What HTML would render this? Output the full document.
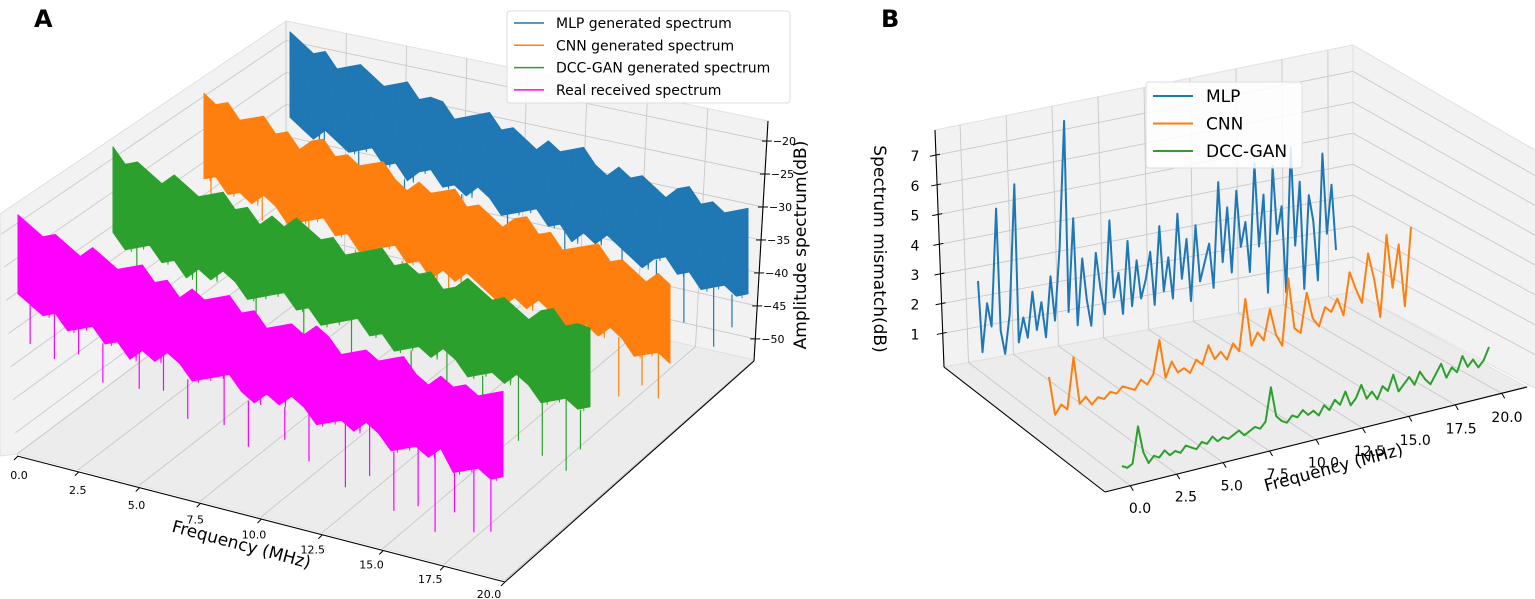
<!DOCTYPE html>
<html><head><meta charset="utf-8"><style>
html,body{margin:0;padding:0;background:#fff;}
svg{display:block;font-family:"DejaVu Sans","Liberation Sans",sans-serif;}
</style></head><body>
<svg id="chart" width="1535" height="599" viewBox="0 0 1535 599" xmlns="http://www.w3.org/2000/svg">
<g id="gA"></g>
<g id="gB"></g>
</svg>
<script>
// ---------- Panel A data (dB) ----------
const freqTicksA = ["0.0","2.5","5.0","7.5","10.0","12.5","15.0","17.5","20.0"];
const ampTicksA = [-20,-25,-30,-35,-40,-45,-50];
const seriesNamesA = ["MLP generated spectrum","CNN generated spectrum","DCC-GAN generated spectrum","Real received spectrum"];
const mlpPeak = [-18,-19,-20,-19,-21,-20,-19,-20,-21,-20,-19,-21,-20,-20,-22,-21,-20,-19,-21,-20,-21,-22,-20,-21,-20,-19,-21,-22,-20,-21,-20,-21,-22,-20,-19,-21,-20,-21,-20,-19];
const mlpFloor = [-31,-32,-33,-31,-32,-33,-32,-31,-33,-32,-34,-32,-31,-33,-32,-33,-31,-32,-34,-33,-32,-31,-33,-32,-34,-32,-33,-31,-32,-33,-34,-32,-31,-33,-32,-34,-33,-32,-33,-32];
const mlpDipF = [1.5,3,5,7.5,9.5,12,14.5,16,17.2,18.5,19.3];
const mlpDipDb = [-36,-35,-36,-37,-38,-36,-39,-37,-40,-42,-38];
const cnnPeak = [-19,-20,-19,-21,-20,-19,-21,-20,-22,-20,-19,-21,-20,-21,-20,-19,-21,-22,-20,-21,-20,-19,-21,-20,-21,-22,-20,-19,-21,-20,-22,-21,-20,-19,-21,-20,-21,-22,-20,-21];
const cnnFloor = [-32,-31,-33,-32,-33,-31,-32,-34,-33,-32,-31,-33,-32,-34,-33,-32,-31,-33,-32,-34,-32,-33,-31,-32,-33,-34,-32,-33,-31,-32,-34,-33,-32,-33,-31,-32,-34,-33,-32,-33];
const cnnDipF = [0.3,2.5,4.5,6.5,8.5,10.5,13,15,16.5,17.8,18.8,19.5];
const cnnDipDb = [-36,-35,-37,-36,-38,-36,-37,-39,-40,-41,-38,-39];
const ganPeak = [-18,-20,-19,-20,-21,-19,-20,-21,-20,-19,-21,-20,-22,-20,-21,-19,-20,-21,-20,-22,-21,-20,-19,-21,-20,-21,-20,-22,-21,-19,-20,-21,-20,-21,-22,-20,-19,-21,-20,-20];
const ganFloor = [-31,-33,-32,-31,-33,-32,-34,-32,-33,-31,-32,-34,-33,-32,-31,-33,-32,-34,-33,-32,-31,-33,-32,-34,-33,-32,-33,-31,-32,-34,-33,-32,-33,-31,-32,-34,-33,-32,-33,-32];
const ganDipF = [1,3.5,6,8,10,12.5,14,15.5,17,18,19,19.6];
const ganDipDb = [-36,-37,-36,-38,-37,-39,-38,-40,-41,-42,-43,-39];
const realPeak = [-18,-19,-20,-19,-20,-21,-19,-20,-21,-20,-19,-21,-20,-22,-20,-21,-20,-19,-21,-20,-22,-21,-20,-21,-19,-20,-22,-21,-20,-21,-20,-19,-21,-22,-20,-21,-20,-21,-20,-19];
const realFloor = [-30,-31,-32,-31,-33,-32,-31,-33,-32,-34,-32,-33,-31,-32,-34,-33,-32,-31,-33,-34,-32,-33,-31,-32,-34,-33,-32,-33,-31,-32,-34,-33,-32,-33,-31,-34,-33,-32,-33,-32];
const realDipF = [0.5,1.5,2.5,3.5,5,6,7,8.5,9.5,11,12,13.5,14.5,15.5,16.5,17.2,18,18.8,19.5];
const realDipDb = [-37,-38,-36,-39,-38,-37,-40,-39,-41,-38,-40,-42,-39,-43,-41,-44,-40,-42,-41];

// ---------- Panel B data (dB) ----------
const freqTicksB = ["0.0","2.5","5.0","7.5","10.0","12.5","15.0","17.5","20.0"];
const zTicksB = [1,2,3,4,5,6,7];
const seriesNamesB = ["MLP","CNN","DCC-GAN"];
const mlpMismatch = [2.8,0.4,2.0,1.2,5.1,1.0,0.2,1.5,5.8,0.5,1.3,0.6,2.1,0.8,1.7,0.5,2.5,1.0,3.4,7.6,1.2,4.3,0.7,2.9,1.5,0.6,3.0,1.8,0.9,4.0,1.4,2.2,0.8,3.2,1.0,2.5,1.2,1.8,2.7,0.9,3.5,1.3,2.4,1.0,3.8,1.6,2.9,0.8,3.3,1.4,2.0,2.6,1.1,4.6,1.9,3.7,1.5,4.2,2.3,3.1,1.4,5.0,2.2,3.9,0.6,4.8,2.5,3.4,0.5,5.3,2.0,4.1,0.5,3.6,2.7,0.7,4.9,2.2,3.8,1.6];
const cnnMismatch = [1.5,0.2,0.5,0.3,2.0,0.4,0.6,0.3,0.5,0.4,0.6,0.5,0.7,0.6,0.5,0.8,0.6,0.9,2.0,0.7,1.2,0.8,0.9,0.7,1.1,0.9,1.5,1.0,1.2,0.9,1.4,1.1,2.8,1.2,1.6,1.3,2.3,1.4,1.0,3.2,1.5,1.3,2.6,1.7,1.4,2.0,1.8,2.2,1.6,3.0,2.4,1.9,3.5,2.6,1.3,4.0,2.2,3.6,1.5,4.1];
const ganMismatch = [0.3,0.2,0.3,1.5,0.6,0.2,0.4,0.3,0.5,0.3,0.4,0.3,0.5,0.4,0.3,0.5,0.4,0.6,0.4,0.5,0.4,0.5,0.6,0.4,0.5,0.6,0.5,0.7,1.8,0.8,0.6,0.5,0.7,0.6,0.8,0.6,0.7,0.5,0.8,0.6,0.9,0.7,1.1,0.6,0.8,1.2,0.7,0.9,0.6,1.0,0.8,1.3,0.7,0.9,1.1,0.8,1.2,0.9,0.7,1.0,1.3,0.8,1.1,0.9,1.4,1.0,1.2,0.9,1.1,1.5];

const NS = "http://www.w3.org/2000/svg";
const gA = document.getElementById('gA');
const gB = document.getElementById('gB');
function mk(parent, tag, attrs){ const e=document.createElementNS(NS,tag); for(const k in attrs) e.setAttribute(k,attrs[k]); parent.appendChild(e); return e; }
function pts(a){ return a.map(p=>p[0].toFixed(1)+','+p[1].toFixed(1)).join(' '); }
function lerp(a,b,t){ return [a[0]+(b[0]-a[0])*t, a[1]+(b[1]-a[1])*t]; }
const GRID = "#c8c8c8";
let e;

// ================= PANEL A =================
const A = { bt:[286,21], bb:[286,253], rt:[768,121], rb:[754,360], lf:[0,214], lfb:[17,454], ff:[505,580] };
e = mk(gA,'polygon',{points:pts([A.bt,A.lf,[0,456],A.lfb,A.bb]),fill:"#f2f2f2",stroke:"#e0e0e0"});
 
e = mk(gA,'polygon',{points:pts([A.bt,A.rt,A.rb,A.bb]),fill:"#f2f2f2",stroke:"#e0e0e0"});
 
e = mk(gA,'polygon',{points:pts([A.lfb,A.bb,A.rb,A.ff]),fill:"#ececec",stroke:"#e0e0e0"});
 
function zfracA(z){ return (-16.96 - z)/36.24; }
ampTicksA.forEach(z=>{
  const u=zfracA(z);
  const L=lerp(A.bt,A.bb,u), R=lerp(A.rt,A.rb,u), F=lerp(A.lf,A.lfb,u);
  e = mk(gA,'line',{x1:L[0],y1:L[1],x2:R[0],y2:R[1],stroke:GRID,'stroke-width':0.9});
   
  e = mk(gA,'line',{x1:L[0],y1:L[1],x2:F[0],y2:F[1],stroke:GRID,'stroke-width':0.9});
   
  e = mk(gA,'line',{x1:R[0]-5,y1:R[1],x2:R[0]+5,y2:R[1],stroke:"#000",'stroke-width':1});
   
  e = mk(gA,'text',{x:R[0]+6,y:R[1]+4,'font-size':11,fill:"#000"});
  e.textContent = '\u2212'+Math.abs(z);
   
});
freqTicksA.forEach((lab,i)=>{
  const t=i/(freqTicksA.length-1);
  const F=lerp(A.lfb,A.ff,t), B=lerp(A.bb,A.rb,t), T=lerp(A.bt,A.rt,t);
  e = mk(gA,'polyline',{points:pts([F,B,T]),fill:"none",stroke:GRID,'stroke-width':0.9});
   
  const fa=[18+487*t, 456+126*t];
  e = mk(gA,'line',{x1:fa[0],y1:fa[1],x2:fa[0]-4,y2:fa[1]+4,stroke:"#000",'stroke-width':1});
   
  e = mk(gA,'text',{x:19+470*t,y:479+119*t,'font-size':11,'text-anchor':'middle',fill:"#000"});
  e.textContent = lab;
   
});
e = mk(gA,'line',{x1:17,y1:456,x2:505,y2:582,stroke:"#000",'stroke-width':1.1});
 
e = mk(gA,'line',{x1:505,y1:582,x2:754,y2:361,stroke:"#000",'stroke-width':1.1});
 
e = mk(gA,'line',{x1:768,y1:121,x2:754,y2:361,stroke:"#000",'stroke-width':1.1});
 

const geomA = [
  {x0:290,x1:748,y0:45,y1:215,c:"#1f77b4",n:'mlp-spectrum'},
  {x0:204,x1:670,y0:100,y1:278,c:"#ff7f0e",n:'cnn-spectrum'},
  {x0:113,x1:590,y0:160,y1:328,c:"#2ca02c",n:'dccgan-spectrum'},
  {x0:18,x1:503,y0:228,y1:398,c:"#ff00ff",n:'real-spectrum'}
];
const peaksA=[mlpPeak,cnnPeak,ganPeak,realPeak], floorsA=[mlpFloor,cnnFloor,ganFloor,realFloor];
const dipFA=[mlpDipF,cnnDipF,ganDipF,realDipF], dipDbA=[mlpDipDb,cnnDipDb,ganDipDb,realDipDb];
function projA(s,f,db){ const G=geomA[s], t=f/20; return [G.x0+t*(G.x1-G.x0), G.y0+t*(G.y1-G.y0)+(-20-db)*6.57]; }
for(let s=0;s<4;s++){
  const P=peaksA[s], Fl=floorsA[s], n=P.length, col=geomA[s].c;
  const g = mk(gA,'g',{});
   
  const top=P.map((v,i)=>projA(s,i*20/(n-1),v));
  const bot=Fl.map((v,i)=>projA(s,i*20/(n-1),v)).reverse();
  e = mk(g,'polygon',{points:pts(top.concat(bot)),fill:col,stroke:col,'stroke-width':1,'stroke-linejoin':'round'});
   
  const zz=[]; for(let i=0;i<n-1;i++){ const f=i*20/(n-1); zz.push(projA(s,f,P[i])); zz.push(projA(s,f+10/(n-1),Fl[i])); }
  e = mk(g,'polyline',{points:pts(zz),fill:"none",stroke:col,'stroke-width':0.8});
   
  dipFA[s].forEach((f,k)=>{
    const i=Math.min(n-1,Math.round(f/20*(n-1)));
    const a=projA(s,f,Fl[i]), b=projA(s,f,dipDbA[s][k]);
    e = mk(g,'line',{x1:a[0],y1:a[1],x2:b[0],y2:b[1],stroke:col,'stroke-width':1.2});
     
  });
}
e = mk(gA,'text',{x:240,y:550,'font-size':17,'text-anchor':'middle',transform:'rotate(15 240 550)',fill:"#000"});
e.textContent='Frequency (MHz)';
 
e = mk(gA,'text',{x:806,y:245,'font-size':17,'text-anchor':'middle',transform:'rotate(-90 806 245)',fill:"#000"});
e.textContent='Amplitude spectrum(dB)';
 
const legA = mk(gA,'g',{});
 
e = mk(legA,'rect',{x:507,y:11,width:283,height:92,rx:3,fill:"#fff",'fill-opacity':0.85,stroke:"#ddd"});
 
seriesNamesA.forEach((nm,i)=>{
  const y=23+i*22.3;
  e = mk(legA,'line',{x1:514,y1:y,x2:544,y2:y,stroke:geomA[i].c,'stroke-width':1.5});
   
  e = mk(legA,'text',{x:556,y:y+5,'font-size':14,fill:"#000"});
  e.textContent=nm;
   
});
e = mk(gA,'text',{x:34,y:27,'font-size':24,'font-weight':'bold',fill:"#000"});
e.textContent='A';
 

// ================= PANEL B =================
const B = { lt:[935,130], lb:[944,367], bt:[1353,45], bb:[1353,292], rt:[1540,153], rb:[1540,391], ff:[1105,492], fr:[1527,387] };
e = mk(gB,'polygon',{points:pts([B.lt,B.bt,B.bb,B.lb]),fill:"#f2f2f2",stroke:"#e0e0e0"});
 
e = mk(gB,'polygon',{points:pts([B.bt,B.rt,B.rb,B.bb]),fill:"#f2f2f2",stroke:"#e0e0e0"});
 
e = mk(gB,'polygon',{points:pts([B.lb,B.bb,B.fr,B.ff]),fill:"#ececec",stroke:"#e0e0e0"});
 
function zfracB(z){ return (7.85 - z)/7.98; }
zTicksB.forEach(z=>{
  const u=zfracB(z);
  const L=lerp(B.lt,B.lb,u), M=lerp(B.bt,B.bb,u), R=lerp(B.rt,B.rb,u);
  e = mk(gB,'polyline',{points:pts([L,M,R]),fill:"none",stroke:GRID,'stroke-width':0.9});
   
  e = mk(gB,'line',{x1:L[0]-6,y1:L[1]+1,x2:L[0]+4,y2:L[1]-1,stroke:"#000",'stroke-width':1});
   
  e = mk(gB,'text',{x:915,y:L[1]+6,'font-size':14,'text-anchor':'middle',fill:"#000"});
  e.textContent=String(z);
   
});
freqTicksB.forEach((lab,i)=>{
  const t=0.06+0.88*i/(freqTicksB.length-1);
  const F=lerp(B.ff,B.fr,t), Bk=lerp(B.lb,B.bb,t), T=lerp(B.lt,B.bt,t);
  e = mk(gB,'polyline',{points:pts([F,Bk,T]),fill:"none",stroke:GRID,'stroke-width':0.9});
   
  e = mk(gB,'line',{x1:F[0],y1:F[1],x2:F[0]+3,y2:F[1]+5,stroke:"#000",'stroke-width':1});
   
  const f=i/(freqTicksB.length-1);
  e = mk(gB,'text',{x:1140+367*f,y:513-91*f,'font-size':14,'text-anchor':'middle',fill:"#000"});
  e.textContent=lab;
   
});
e = mk(gB,'line',{x1:935,y1:130,x2:944,y2:367,stroke:"#000",'stroke-width':1.1});
 
e = mk(gB,'line',{x1:944,y1:367,x2:1105,y2:492,stroke:"#000",'stroke-width':1.1});
 
e = mk(gB,'line',{x1:1105,y1:492,x2:1527,y2:387,stroke:"#000",'stroke-width':1.1});
 

const geomB = [
  {x0:978,x1:1336,b0:365,b1:298,c:"#1f77b4",n:'mlp-mismatch-line'},
  {x0:1049,x1:1411,b0:422,b1:350,c:"#ff7f0e",n:'cnn-mismatch-line'},
  {x0:1122,x1:1489,b0:475,b1:392,c:"#2ca02c",n:'dccgan-mismatch-line'}
];
const valsB=[mlpMismatch,cnnMismatch,ganMismatch];
function projB(s,f,z){ const G=geomB[s], t=f/20; return [G.x0+t*(G.x1-G.x0), G.b0+t*(G.b1-G.b0)-z*30]; }
for(let s=0;s<3;s++){
  const V=valsB[s], n=V.length;
  e = mk(gB,'polyline',{points:pts(V.map((v,i)=>projB(s,i*20/(n-1),v))),fill:"none",stroke:geomB[s].c,'stroke-width':2,'stroke-linejoin':'round'});
   
}
e = mk(gB,'text',{x:1335,y:473,'font-size':17,'text-anchor':'middle',transform:'rotate(-15 1335 473)',fill:"#000"});
e.textContent='Frequency (MHz)';
 
e = mk(gB,'text',{x:874,y:249,'font-size':17,'text-anchor':'middle',transform:'rotate(90 874 249)',fill:"#000"});
e.textContent='Spectrum mismatch(dB)';
 
const legB = mk(gB,'g',{});
 
e = mk(legB,'rect',{x:1146,y:82,width:156,height:86,rx:3,fill:"#fff",'fill-opacity':0.85,stroke:"#ddd"});
 
seriesNamesB.forEach((nm,i)=>{
  const y=96+i*27.5;
  e = mk(legB,'line',{x1:1153,y1:y,x2:1193,y2:y,stroke:geomB[i].c,'stroke-width':2});
   
  e = mk(legB,'text',{x:1206,y:y+6,'font-size':17,fill:"#000"});
  e.textContent=nm;
   
});
e = mk(gB,'text',{x:881,y:27,'font-size':24,'font-weight':'bold',fill:"#000"});
e.textContent='B';
 
</script>
</body></html>
